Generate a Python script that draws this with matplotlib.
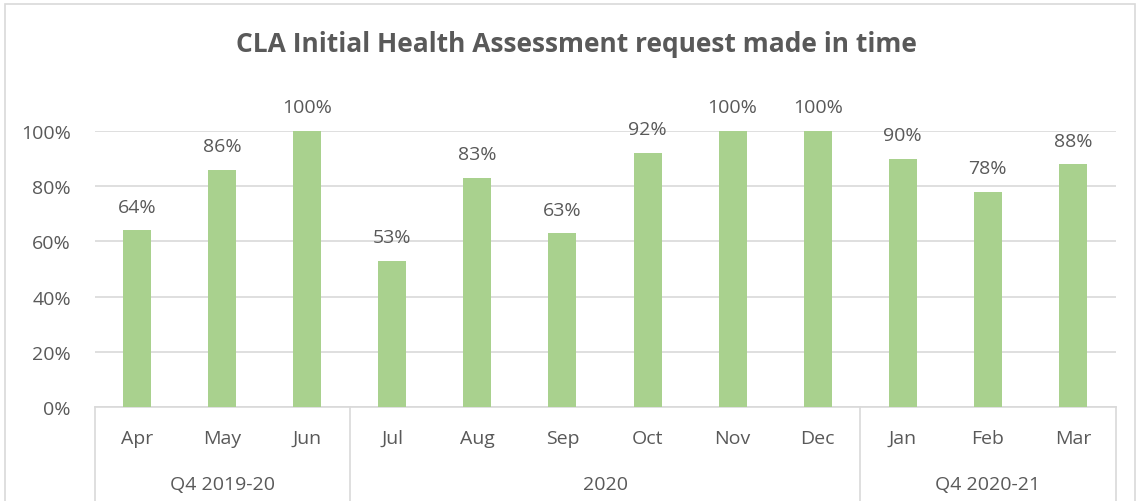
import matplotlib
matplotlib.use("Agg")
import matplotlib.pyplot as plt
import matplotlib.transforms as mtransforms
from matplotlib.lines import Line2D
from matplotlib.patches import Rectangle

months = ["Apr", "May", "Jun", "Jul", "Aug", "Sep", "Oct", "Nov", "Dec", "Jan", "Feb", "Mar"]
values = [0.64, 0.86, 1.00, 0.53, 0.83, 0.63, 0.92, 1.00, 1.00, 0.90, 0.78, 0.88]
groups = ["Q4 2019-20", "2020", "Q4 2020-21"]
group_sizes = [3, 6, 3]
yticks = [0, 0.2, 0.4, 0.6, 0.8, 1.0]
title = "CLA Initial Health Assessment request made in time"

plt.rcParams['font.family'] = ['Open Sans', 'DejaVu Sans']
TXT = "#595959"
GRID = "#D9D9D9"
BAR = "#A9D18E"
FS = 14

W, H = 1139, 502
fig = plt.figure(figsize=(W / 100, H / 100), dpi=100)
fig.patch.set_facecolor("white")

# outer chart border
fig.add_artist(Rectangle((5 / W, -0.1), (1135 - 5) / W, 1 - 5 / H + 0.1,
                         transform=fig.transFigure, fill=False,
                         edgecolor=GRID, linewidth=1.2))

left, right = 94.5 / W, 1115.5 / W
bottom, top = 1 - 408 / H, 1 - 132 / H
ax = fig.add_axes([left, bottom, right - left, top - bottom])
ax_h_px = (top - bottom) * H

x = list(range(len(months)))
ax.bar(x, values, width=0.33, color=BAR, zorder=3)
ax.set_xlim(-0.5, len(months) - 0.5)
ax.set_ylim(0, 1.0)
ax.set_yticks(yticks)
ax.set_yticklabels([f"{int(round(v * 100))}%" for v in yticks], fontsize=FS, color=TXT)
ax.yaxis.grid(True, color=GRID, linewidth=1.2, zorder=0)
ax.set_axisbelow(True)
ax.tick_params(axis="y", length=0, pad=17)
ax.set_xticks([])
for s in ["top", "right", "left"]:
    ax.spines[s].set_visible(False)
ax.spines["bottom"].set_color(GRID)
ax.spines["bottom"].set_linewidth(1.2)

trans = mtransforms.blended_transform_factory(ax.transData, ax.transAxes)

# month labels
for xi, m in zip(x, months):
    ax.text(xi, -(439 - 408) / ax_h_px, m, transform=trans, ha="center",
            va="center", fontsize=FS, color=TXT, clip_on=False)

# data labels
for xi, v in zip(x, values):
    ax.annotate(f"{int(round(v * 100))}%", (xi, v), xytext=(0, 17),
                textcoords="offset points", ha="center", va="center",
                fontsize=FS, color=TXT, annotation_clip=False)

# group separators and labels
bounds = [-0.5]
for n in group_sizes:
    bounds.append(bounds[-1] + n)
for b in bounds:
    ax.add_line(Line2D([b, b], [0, -120 / ax_h_px], transform=trans,
                       color=GRID, linewidth=1.2, clip_on=False))
for i, g in enumerate(groups):
    cx = (bounds[i] + bounds[i + 1]) / 2
    ax.text(cx, -(485 - 408) / ax_h_px, g, transform=trans, ha="center",
            va="center", fontsize=FS, color=TXT, clip_on=False)

fig.text(576 / W, 1 - 44 / H, title, ha="center", va="center",
         fontsize=19, fontweight="bold", color=TXT)

fig.savefig("out.png", dpi=100)
